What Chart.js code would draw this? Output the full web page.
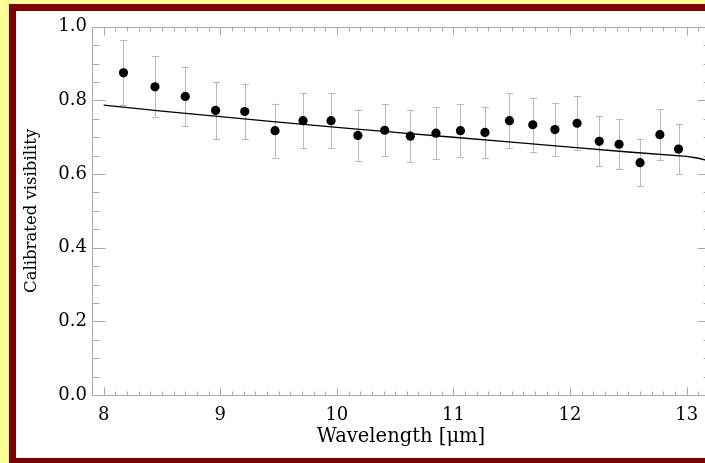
<!DOCTYPE html>
<html>
<head>
<meta charset="utf-8">
<script src="https://cdn.jsdelivr.net/npm/chart.js@4/dist/chart.umd.min.js"></script>
<style>
  html, body { margin: 0; padding: 0; overflow: hidden; background: #FFFF99; }
  #clip { position: absolute; left: 0; top: 0; width: 705px; height: 463px; overflow: hidden; background: #FFFF99; }
  #frame { position: absolute; left: 9px; top: 4px; width: 760px; height: 447px;
           border: 7px solid #800000; border-right: none; background: #ffffff; }
  #wrap { position: absolute; left: 0; top: 0; width: 714px; height: 447px; }
</style>
</head>
<body>
<div id="clip"><div id="frame"><div id="wrap"><canvas id="c"></canvas></div></div></div>
<script>
// Measured visibilities per spectral channel
const wavelength = [8.17, 8.44, 8.70, 8.96, 9.21, 9.47, 9.71, 9.95, 10.18, 10.41, 10.63, 10.85,
                    11.06, 11.27, 11.48, 11.68, 11.87, 12.06, 12.25, 12.42, 12.60, 12.77, 12.93];
const visibility = [0.875, 0.837, 0.811, 0.773, 0.770, 0.718, 0.745, 0.745, 0.705, 0.719, 0.703, 0.711,
                    0.718, 0.713, 0.745, 0.734, 0.721, 0.738, 0.689, 0.681, 0.631, 0.707, 0.668];
const visError   = [0.088, 0.083, 0.081, 0.078, 0.076, 0.073, 0.075, 0.075, 0.070, 0.071, 0.070, 0.070,
                    0.072, 0.070, 0.075, 0.073, 0.072, 0.073, 0.068, 0.068, 0.063, 0.070, 0.067];

// Model visibility curve
const modelWavelength = [8.0, 8.5, 9.0, 9.5, 10.0, 10.5, 11.0, 11.5, 12.0, 12.5, 13.0, 13.1, 13.2];
const modelVisibility = [0.787, 0.771, 0.756, 0.741, 0.727, 0.713, 0.700, 0.687, 0.673, 0.660, 0.648, 0.643, 0.635];

// Axis tick labels
const xTickValues = [8, 9, 10, 11, 12, 13];
const yTickValues = [0.0, 0.2, 0.4, 0.6, 0.8, 1.0];

const FONT = "'DejaVu Serif', 'Liberation Serif', serif";
const AXIS_GREY = '#a8a8a8';
const ERR_GREY = '#b8b8b8';

const errorBars = {
  id: 'errorBars',
  beforeDatasetsDraw(chart) {
    const { ctx, scales: { x, y } } = chart;
    ctx.save();
    ctx.strokeStyle = ERR_GREY;
    ctx.lineWidth = 1;
    wavelength.forEach((w, i) => {
      const px = Math.round(x.getPixelForValue(w)) + 0.5;
      const top = y.getPixelForValue(visibility[i] + visError[i]);
      const bot = y.getPixelForValue(visibility[i] - visError[i]);
      ctx.beginPath();
      ctx.moveTo(px, top); ctx.lineTo(px, bot);
      ctx.moveTo(px - 3.5, Math.round(top) + 0.5); ctx.lineTo(px + 3.5, Math.round(top) + 0.5);
      ctx.moveTo(px - 3.5, Math.round(bot) + 0.5); ctx.lineTo(px + 3.5, Math.round(bot) + 0.5);
      ctx.stroke();
    });
    ctx.restore();
  }
};

// Box frame with inward-pointing ticks on all four sides
const boxAxes = {
  id: 'boxAxes',
  afterDraw(chart) {
    const { ctx, chartArea: a, scales: { x, y } } = chart;
    ctx.save();
    ctx.strokeStyle = AXIS_GREY;
    ctx.lineWidth = 1;
    const L = Math.round(a.left) + 0.5, R = Math.round(a.right) + 0.5;
    const T = Math.round(a.top) + 0.5, B = Math.round(a.bottom) + 0.5;
    ctx.beginPath();
    ctx.rect(L, T, R - L, B - T);
    for (let i = 79; i <= 132; i++) {
      const v = i / 10;
      const px = Math.round(x.getPixelForValue(v)) + 0.5;
      const len = (i % 10 === 0) ? 8 : 4;
      ctx.moveTo(px, B); ctx.lineTo(px, B - len);
      ctx.moveTo(px, T); ctx.lineTo(px, T + len);
    }
    for (let j = 0; j <= 20; j++) {
      const v = j * 0.05;
      const py = Math.round(y.getPixelForValue(v)) + 0.5;
      const len = (j % 4 === 0) ? 13 : 7;
      ctx.moveTo(L, py); ctx.lineTo(L + len, py);
      ctx.moveTo(R, py); ctx.lineTo(R - len, py);
    }
    ctx.stroke();
    ctx.restore();
  }
};

new Chart(document.getElementById('c'), {
  type: 'scatter',
  data: {
    datasets: [
      {
        type: 'line',
        data: modelWavelength.map((w, i) => ({ x: w, y: modelVisibility[i] })),
        borderColor: '#000000',
        borderWidth: 1.3,
        pointRadius: 0,
        fill: false,
        tension: 0,
        order: 2
      },
      {
        data: wavelength.map((w, i) => ({ x: w, y: visibility[i] })),
        backgroundColor: '#000000',
        borderColor: '#000000',
        pointRadius: 4.6,
        pointBorderWidth: 0,
        order: 1
      }
    ]
  },
  options: {
    responsive: true,
    maintainAspectRatio: false,
    animation: false,
    events: [],
    layout: { padding: { top: 11, right: 20, left: 0, bottom: 0 } },
    plugins: { legend: { display: false }, tooltip: { enabled: false } },
    scales: {
      x: {
        type: 'linear',
        min: 7.9,
        max: 13.2,
        border: { display: false },
        grid: { display: false, drawTicks: false },
        afterBuildTicks(scale) { scale.ticks = xTickValues.map(v => ({ value: v })); },
        afterFit(scale) { scale.height = 63; },
        ticks: {
          color: '#000000',
          padding: 10,
          maxRotation: 0,
          autoSkip: false,
          font: { family: FONT, size: 18 },
          callback: v => String(v)
        },
        title: {
          display: true,
          text: 'Wavelength [\u03bcm]',
          color: '#000000',
          padding: { top: 0, bottom: 9 },
          font: { family: FONT, size: 19.5 }
        }
      },
      y: {
        type: 'linear',
        min: 0,
        max: 1,
        border: { display: false },
        grid: { display: false, drawTicks: false },
        afterBuildTicks(scale) { scale.ticks = yTickValues.map(v => ({ value: v })); },
        afterFit(scale) { scale.width = 76; },
        ticks: {
          color: '#000000',
          padding: 5,
          autoSkip: false,
          font: { family: FONT, size: 18 },
          callback: v => Number(v).toFixed(1)
        },
        title: {
          display: true,
          text: 'Calibrated visibility',
          color: '#000000',
          padding: { top: 6, bottom: 0 },
          font: { family: FONT, size: 16.5 }
        }
      }
    }
  },
  plugins: [errorBars, boxAxes]
});
</script>
</body>
</html>
